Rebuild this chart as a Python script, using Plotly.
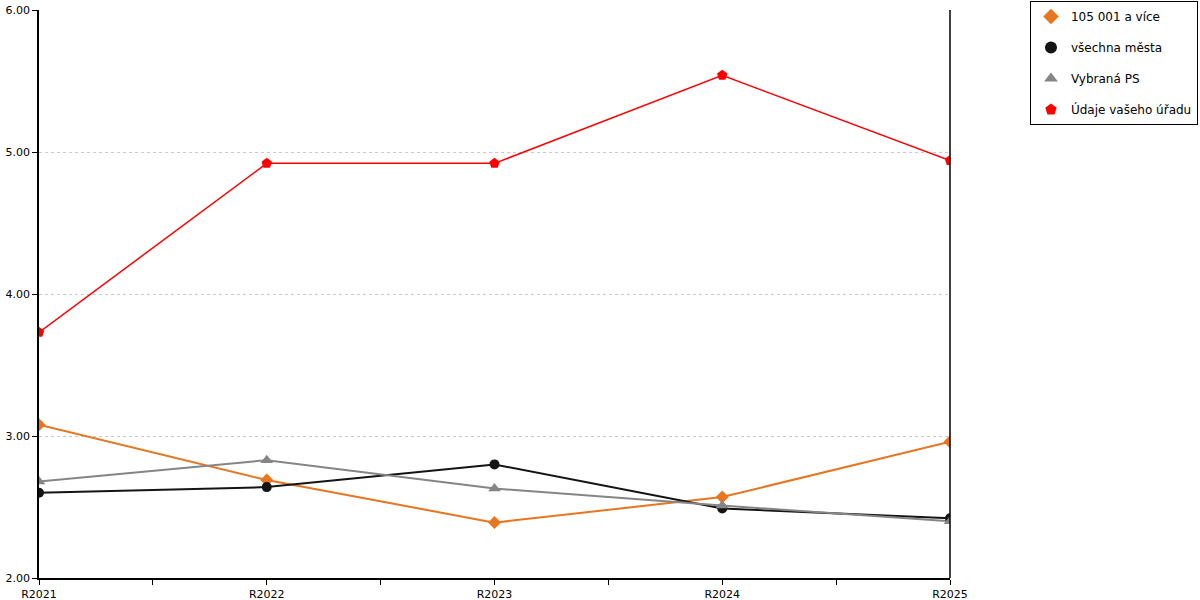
import plotly.graph_objects as go

# data
roky = ["R2021", "R2022", "R2023", "R2024", "R2025"]

mesta_105001 = [3.08, 2.69, 2.39, 2.57, 2.96]
vsechna_mesta = [2.60, 2.64, 2.80, 2.49, 2.42]
vybrana_ps = [2.68, 2.83, 2.63, 2.51, 2.40]
vas_urad = [3.73, 4.92, 4.92, 5.54, 4.94]

serie = [
    ("105 001 a více", mesta_105001, "#E8751F", "diamond", 10, 2),
    ("všechna města", vsechna_mesta, "#141414", "circle", 10, 2),
    ("Vybraná PS", vybrana_ps, "#858585", "triangle-up", 11, 2),
    ("Údaje vašeho úřadu", vas_urad, "#FF0000", "pentagon", 11, 1.5),
]

pozice = list(range(len(roky)))

fig = go.Figure()

# lines first, without legend
for nazev, hodnoty, barva, symbol, velikost, sirka in serie:
    fig.add_trace(go.Scatter(
        x=pozice, y=hodnoty, mode="lines",
        line=dict(color=barva, width=sirka),
        showlegend=False, hoverinfo="skip",
    ))

# markers on top, these go to the legend
for nazev, hodnoty, barva, symbol, velikost, sirka in serie:
    fig.add_trace(go.Scatter(
        x=pozice, y=hodnoty, mode="markers", name=nazev,
        legendgroup=nazev,
        marker=dict(color=barva, symbol=symbol, size=velikost),
    ))

# right border line of the plot
fig.add_shape(type="line", xref="x domain", yref="y domain",
              x0=1, x1=1, y0=0, y1=1,
              line=dict(color="black", width=1.5))

fig.update_xaxes(
    range=[0, len(roky) - 1],
    tickmode="array", tickvals=pozice, ticktext=roky,
    ticks="outside", ticklen=5, tickcolor="black",
    minor=dict(tick0=0, dtick=0.5, ticks="outside", ticklen=5, tickcolor="black"),
    showline=True, linecolor="black", linewidth=1.5,
    showgrid=False, zeroline=False, automargin=False,
    tickfont=dict(family="DejaVu Sans", size=11, color="black"),
)

fig.update_yaxes(
    range=[2, 6], dtick=1, tick0=2, tickformat=".2f",
    ticks="outside", ticklen=5, tickcolor="black",
    showline=True, linecolor="black", linewidth=1.5,
    showgrid=True, gridcolor="#c8c8c8", griddash="dot", gridwidth=1,
    zeroline=False, automargin=False,
    tickfont=dict(family="DejaVu Sans", size=11, color="black"),
)

fig.update_layout(
    width=1200, height=600,
    margin=dict(l=39, r=250, t=10, b=22, autoexpand=False),
    plot_bgcolor="white", paper_bgcolor="white",
    font=dict(family="DejaVu Sans", size=12, color="black"),
    legend=dict(
        x=1.2722, xanchor="right", y=1.0158, yanchor="top",
        bordercolor="black", borderwidth=1,
        tracegroupgap=12, itemsizing="constant",
        font=dict(size=12),
    ),
    hovermode="closest",
)

# page has a default 8px body margin, remove it so the figure fills the window
fig.write_html("out.html", config={"displayModeBar": False},
               post_script="document.body.style.margin='0px';")
